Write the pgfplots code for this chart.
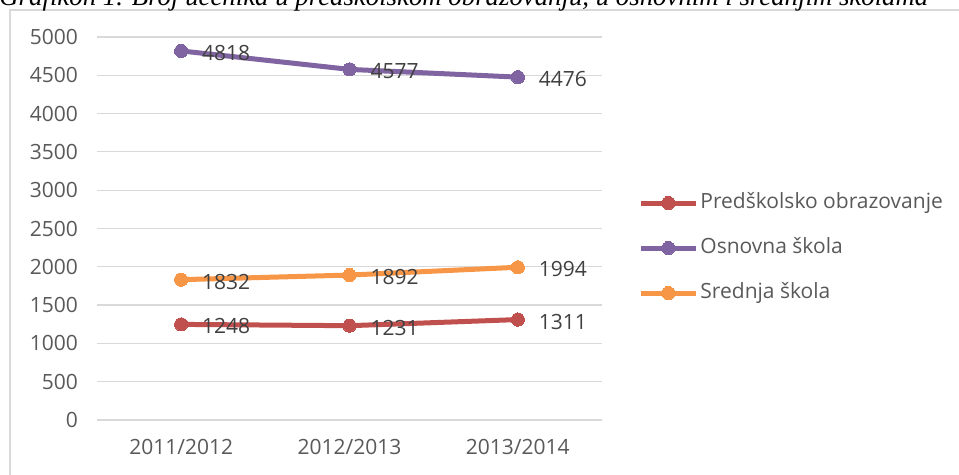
\documentclass[border=0pt]{standalone}
\usepackage{pgfplots}
\pgfplotsset{compat=1.18}
\usepackage{fontspec}
\setmainfont{Open Sans}
\newfontfamily\titlefont{Liberation Serif}
\definecolor{cred}{HTML}{C0504D}
\definecolor{cpurple}{HTML}{8064A2}
\definecolor{corange}{HTML}{F79646}
\definecolor{ctick}{HTML}{595959}
\definecolor{clabel}{HTML}{404040}
\definecolor{cgrid}{HTML}{D9D9D9}
\begin{document}
\begin{tikzpicture}
\useasboundingbox (0pt,0pt) rectangle (479.5pt,237.5pt);
% chart border
\draw[cgrid, line width=1pt] (5pt,-2pt) -- (5pt,232.5pt) -- (482pt,232.5pt);
% title (clipped at top)
\node[anchor=base west, inner sep=0pt, font=\titlefont\itshape\fontsize{13.4}{15}\selectfont, text=black] at (-0.5pt,234.5pt)
  {Grafikon 1. Broj učenika u predškolskom obrazovanju, u osnovnim i srednjim školama};
\begin{axis}[
  at={(48.5pt,27.5pt)}, anchor=south west,
  scale only axis, width=252.5pt, height=191.5pt,
  xmin=-0.5, xmax=2.5, ymin=0, ymax=5000,
  xtick={0,1,2}, xticklabels={2011/2012,2012/2013,2013/2014},
  ytick={0,500,...,5000},
  axis line style={draw=none},
  major tick style={draw=none},
  ymajorgrids, major grid style={cgrid, line width=0.6pt},
  /pgf/number format/assume math mode=true,
  /pgf/number format/1000 sep={},
  tick label style={font=\fontsize{10.5}{12}\selectfont, text=ctick},
  yticklabel style={anchor=east, xshift=-6pt},
  xticklabel style={anchor=center, yshift=-13.5pt},
  clip=false,
  every axis plot/.append style={line width=2.5pt, mark=*, mark size=3.3pt},
  nodes near coords,
  every node near coord/.append style={anchor=west, xshift=9.5pt, yshift=-1pt, inner sep=1pt,
    font=\fontsize{10.5}{12}\selectfont, text=clabel,
    /pgf/number format/1000 sep={}, /pgf/number format/assume math mode=true},
  legend style={at={(axis description cs:1,0.449)}, anchor=west, xshift=18pt,
    draw=none, fill=none, font=\fontsize{10.5}{12}\selectfont, text=ctick,
    row sep=10.5pt, inner sep=0pt,
    nodes={inner sep=1pt, text height=7.5pt, text depth=2.5pt}},
  legend cell align=left,
  legend image code/.code={\draw[#1, mark repeat=2, mark phase=2] plot coordinates {(0pt,0pt) (13.75pt,0pt) (27.5pt,0pt)};},
]
\addplot[color=cred, mark options={fill=cred, draw=cred, line width=0pt}] coordinates {(0,1248) (1,1231) (2,1311)};
\addlegendentry{Predškolsko obrazovanje}
\addplot[color=cpurple, mark options={fill=cpurple, draw=cpurple, line width=0pt}] coordinates {(0,4818) (1,4577) (2,4476)};
\addlegendentry{Osnovna škola}
\addplot[color=corange, mark options={fill=corange, draw=corange, line width=0pt}] coordinates {(0,1832) (1,1892) (2,1994)};
\addlegendentry{Srednja škola}
\end{axis}
\end{tikzpicture}
\end{document}
